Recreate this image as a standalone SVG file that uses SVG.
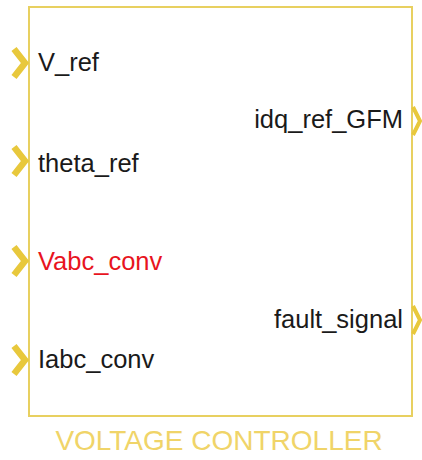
<svg xmlns="http://www.w3.org/2000/svg" width="422" height="460" viewBox="0 0 422 460">
<style>
.lbl{font-family:"Liberation Sans",Arial,sans-serif;font-size:25.5px;fill:#1a1a1a}
.red{fill:#e8141e}
.port{fill:none;stroke:#e8c83c;stroke-linejoin:miter;stroke-linecap:butt}
.title{font-family:"Liberation Sans",Arial,sans-serif;font-size:28px;fill:#f0d468}
</style>
<rect width="422" height="460" fill="#ffffff"/>
<g id="block">
<rect x="29" y="7" width="383" height="409" fill="#ffffff" stroke="#e8d060" stroke-width="2"/>
<text class="title" x="219" y="450" text-anchor="middle">VOLTAGE CONTROLLER</text>
</g>
<g id="ports">
<g id="in_V_ref"><polyline class="port" stroke-width="6.5" points="14,49 25,63 14,77"/><text class="lbl" x="38" y="71">V_ref</text></g>
<g id="in_theta_ref"><polyline class="port" stroke-width="6.5" points="14,147 25,161 14,175"/><text class="lbl" x="38" y="172">theta_ref</text></g>
<g id="in_Vabc_conv"><polyline class="port" stroke-width="6.5" points="14,247 25,261 14,275"/><text class="lbl red" x="38" y="270">Vabc_conv</text></g>
<g id="in_Iabc_conv"><polyline class="port" stroke-width="6.5" points="14,346 25,360 14,374"/><text class="lbl" x="38" y="368">Iabc_conv</text></g>
<g id="out_idq"><polyline class="port" stroke-width="4" points="413,107 420,121 413,135"/><text class="lbl" x="403" y="128" text-anchor="end">idq_ref_GFM</text></g>
<g id="out_fault"><polyline class="port" stroke-width="4" points="413,306 420,320 413,334"/><text class="lbl" x="403" y="328" text-anchor="end">fault_signal</text></g>
</g>
<g id="connectors"></g>
</svg>
